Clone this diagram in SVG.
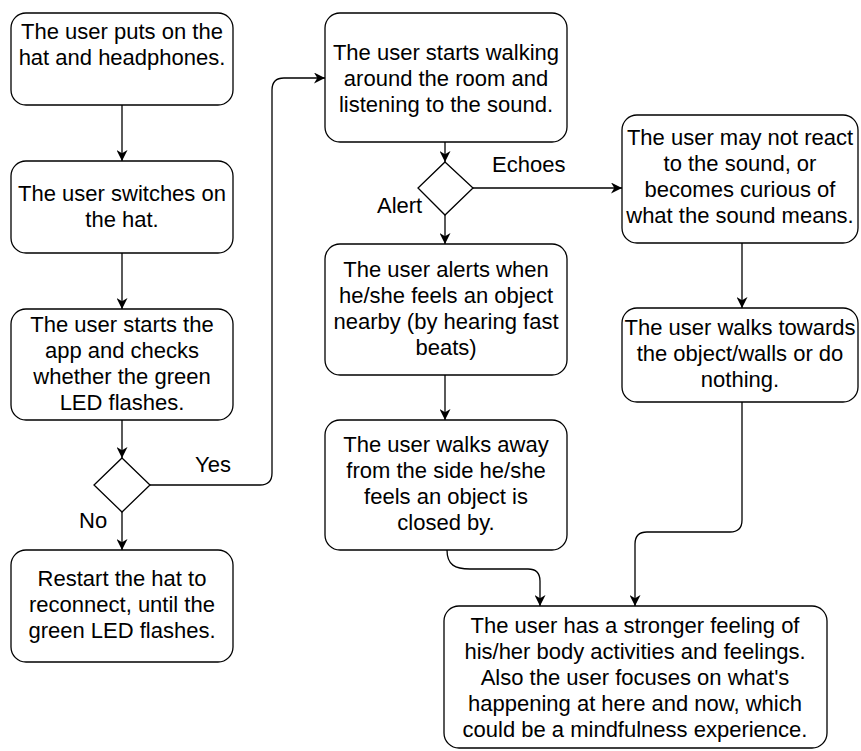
<svg xmlns="http://www.w3.org/2000/svg" width="861" height="751" viewBox="0 0 861 751">
<defs>
<marker id="arr" viewBox="0 0 10 10" refX="10" refY="5" markerWidth="11" markerHeight="11" markerUnits="userSpaceOnUse" orient="auto">
<path d="M0,0 L10,5 L0,10 L3,5 z" fill="#000"/>
</marker>
<style>
.box{fill:#fff;stroke:#000;stroke-width:1.3}
.dia{fill:#fff;stroke:#000;stroke-width:1.3}
.t{font-family:"Liberation Sans",Arial,Helvetica,sans-serif;font-size:22px;fill:#000;text-anchor:middle}
.lbl{font-family:"Liberation Sans",Arial,Helvetica,sans-serif;font-size:22px;fill:#000}
.c{fill:none;stroke:#000;stroke-width:1.3;marker-end:url(#arr)}
</style>
</defs>
<rect width="861" height="751" fill="#fff"/>
<g id="connectors">
<path class="c" d="M122,105 V161"/>
<path class="c" d="M122,253 V309"/>
<path class="c" d="M122,420 V458"/>
<path class="c" d="M122,512 V550"/>
<path class="c" d="M150,485 H260 Q272,485 272,473 V90 Q272,78 284,78 H325"/>
<path class="c" d="M445,142 V162"/>
<path class="c" d="M445,215 V244"/>
<path class="c" d="M473,188 H622"/>
<path class="c" d="M445,375 V420"/>
<path class="c" d="M742,243 V308"/>
<path class="c" d="M447,550 C447,565 455,569 470,569 H528 Q540,569 540,581 V606"/>
<path class="c" d="M742,402 V520 Q742,532 730,532 H647 Q635,532 635,544 V606"/>
<text class="lbl" x="195" y="472">Yes</text>
<text class="lbl" x="79" y="528">No</text>
<text class="lbl" x="492" y="172">Echoes</text>
<text class="lbl" x="377" y="213">Alert</text>
</g>
<g id="n1">
<rect class="box" x="11" y="13" width="222" height="92" rx="15"/>
<text class="t" x="122" y="39">The user puts on the</text>
<text class="t" x="122" y="65">hat and headphones.</text>
</g>
<g id="n2">
<rect class="box" x="11" y="161" width="222" height="92" rx="15"/>
<text class="t" x="122" y="201">The user switches on</text>
<text class="t" x="122" y="227">the hat.</text>
</g>
<g id="n3">
<rect class="box" x="11" y="309" width="222" height="111" rx="15"/>
<text class="t" x="122" y="332">The user starts the</text>
<text class="t" x="122" y="358">app and checks</text>
<text class="t" x="122" y="384">whether the green</text>
<text class="t" x="122" y="410">LED flashes.</text>
</g>
<g id="d1">
<polygon class="dia" points="122,458 150,485 122,512 94,485"/>
</g>
<g id="n5">
<rect class="box" x="11" y="550" width="222" height="112" rx="15"/>
<text class="t" x="122" y="586">Restart the hat to</text>
<text class="t" x="122" y="612">reconnect, until the</text>
<text class="t" x="122" y="638">green LED flashes.</text>
</g>
<g id="n4">
<rect class="box" x="325" y="13" width="242" height="129" rx="15"/>
<text class="t" x="446" y="60">The user starts walking</text>
<text class="t" x="446" y="86">around the room and</text>
<text class="t" x="446" y="112">listening to the sound.</text>
</g>
<g id="d2">
<polygon class="dia" points="445,162 473,188 445,215 418,188"/>
</g>
<g id="n6">
<rect class="box" x="325" y="244" width="242" height="131" rx="15"/>
<text class="t" x="446" y="277">The user alerts when</text>
<text class="t" x="446" y="303">he/she feels an object</text>
<text class="t" x="446" y="329">nearby (by hearing fast</text>
<text class="t" x="446" y="355">beats)</text>
</g>
<g id="n7">
<rect class="box" x="325" y="420" width="242" height="130" rx="15"/>
<text class="t" x="446" y="452">The user walks away</text>
<text class="t" x="446" y="478">from the side he/she</text>
<text class="t" x="446" y="504">feels an object is</text>
<text class="t" x="446" y="530">closed by.</text>
</g>
<g id="n8">
<rect class="box" x="622" y="115" width="236" height="128" rx="15"/>
<text class="t" x="740" y="145">The user may not react</text>
<text class="t" x="740" y="171">to the sound, or</text>
<text class="t" x="740" y="197">becomes curious of</text>
<text class="t" x="740" y="223">what the sound means.</text>
</g>
<g id="n9">
<rect class="box" x="622" y="308" width="236" height="94" rx="15"/>
<text class="t" x="740" y="335">The user walks towards</text>
<text class="t" x="740" y="361">the object/walls or do</text>
<text class="t" x="740" y="387">nothing.</text>
</g>
<g id="n10">
<rect class="box" x="444" y="606" width="383" height="142" rx="15"/>
<text class="t" x="635" y="633">The user has a stronger feeling of</text>
<text class="t" x="635" y="659">his/her body activities and feelings.</text>
<text class="t" x="635" y="685">Also the user focuses on what's</text>
<text class="t" x="635" y="711">happening at here and now, which</text>
<text class="t" x="635" y="737">could be a mindfulness experience.</text>
</g>
</svg>
